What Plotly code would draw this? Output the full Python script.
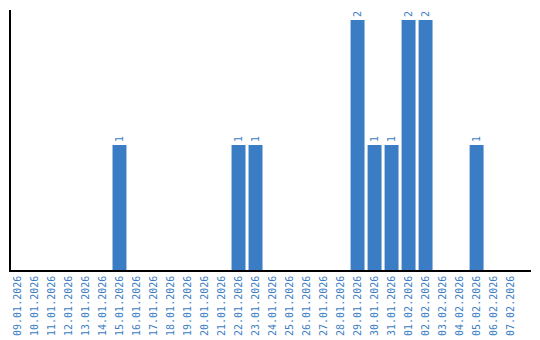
import plotly.graph_objects as go

dates = ["09.01.2026","10.01.2026","11.01.2026","12.01.2026","13.01.2026","14.01.2026",
         "15.01.2026","16.01.2026","17.01.2026","18.01.2026","19.01.2026","20.01.2026",
         "21.01.2026","22.01.2026","23.01.2026","24.01.2026","25.01.2026","26.01.2026",
         "27.01.2026","28.01.2026","29.01.2026","30.01.2026","31.01.2026","01.02.2026",
         "02.02.2026","03.02.2026","04.02.2026","05.02.2026","06.02.2026","07.02.2026"]
counts = [0,0,0,0,0,0,1,0,0,0,0,0,0,1,1,0,0,0,0,0,2,1,1,2,2,0,0,1,0,0]

blue = "#3b7dc4"
labels = [str(c) if c > 0 else "" for c in counts]

fig = go.Figure(go.Bar(
    x=dates, y=counts, marker_color=blue, marker_line_width=0,
    text=labels, textposition="outside", textangle=-90,
    textfont=dict(color=blue, size=10, family="DejaVu Sans Mono"),
    cliponaxis=False,
))
fig.update_layout(
    width=540, height=340,
    margin=dict(l=11, r=9, t=10, b=70),
    plot_bgcolor="white", paper_bgcolor="white",
    bargap=0.18, showlegend=False,
    font=dict(family="DejaVu Sans Mono"),
)
fig.update_xaxes(type="category", range=[-0.38, 30.2], showline=True, linecolor="black",
                 linewidth=1.5, ticks="", tickangle=-90, automargin=False,
                 tickfont=dict(color=blue, size=10, family="DejaVu Sans Mono"))
fig.update_yaxes(range=[0, 2.08], showline=True, linecolor="black", linewidth=1.5,
                 showgrid=False, showticklabels=False, ticks="", zeroline=False,
                 automargin=False)
fig.write_html("out.html")
